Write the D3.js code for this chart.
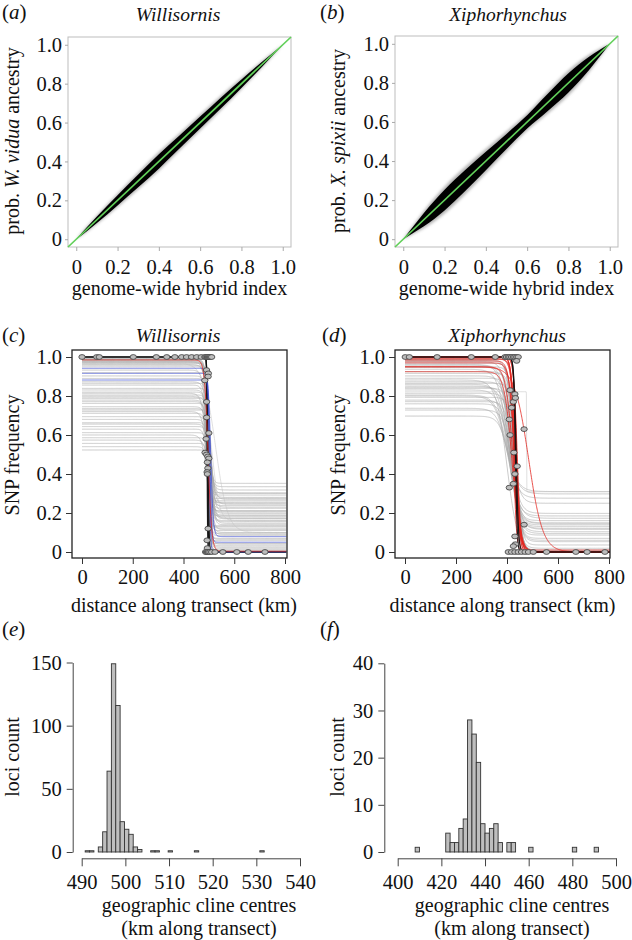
<!DOCTYPE html>
<html><head><meta charset="utf-8">
<script src="https://cdn.jsdelivr.net/npm/d3@7/dist/d3.min.js"></script>
<style>
body{margin:0;background:#fff}
svg text{font-family:"Liberation Serif","Times New Roman",Times,serif;fill:#111}
</style>
</head><body>
<svg id="fig" width="632" height="940"></svg>
<script>
// ---------------- DATA ----------------
const panelLetters = ["a","b","c","d","e","f"];
const genusTitles = ["Willisornis","Xiphorhynchus"];
const unitTicks = [0,0.2,0.4,0.6,0.8,1.0];
const unitTickLabels = ["0","0.2","0.4","0.6","0.8","1.0"];
// width of the ancestry band (a, b) around the diagonal
const bandX     = [0, 0.05, 0.1, 0.2, 0.3, 0.4, 0.5, 0.6, 0.7, 0.8, 0.9, 0.95, 1];
const bandHalfA = [0, 0.010, 0.017, 0.026, 0.033, 0.037, 0.034, 0.031, 0.028, 0.022, 0.013, 0.007, 0];
const bandHalfB = [0, 0.017, 0.034, 0.053, 0.054, 0.047, 0.039, 0.034, 0.044, 0.049, 0.034, 0.018, 0];

const kmTicks = [0,200,400,600,800];
const kmTickLabels = ["0","200","400","600","800"];

// (c) Willisornis clines: left plateau, right plateau, centre (km), width (km)
const grayLeftC   = [0.985,0.976,0.968,0.959,0.950,0.933,0.920,0.903,0.890,0.873,0.865,0.856,0.839,0.831,0.820,0.814,0.805,0.795,0.788,0.779,0.771,0.762,0.745,0.735,0.728,0.720,0.711,0.694,0.680,0.663,0.656,0.643,0.630,0.612,0.600,0.586,0.574,0.557,0.540,0.523,0.99,0.98,0.97,0.96,0.99,0.985,0.975,0.99];
const grayRightC  = [0.007,0.19,0.044,0.30,0.122,0.25,0.019,0.335,0.084,0.173,0.065,0.224,0.135,0.28,0.032,0.198,0.11,0.352,0.058,0.147,0.238,0.012,0.161,0.292,0.096,0.205,0.04,0.263,0.18,0.07,0.318,0.13,0.025,0.212,0.155,0.304,0.10,0.275,0.186,0.255,0.17,0.23,0.14,0.27,0.09,0.21,0.245,0.115];
const grayCentreC = [496,499,494,501,497,493,500,498,495,502,499,494,497,501,496,492,498,500,495,503,497,494,499,496,501,493,498,495,500,497,502,494,496,499,493,498,501,495,497,500,503,500,505,502,498,504,501,499];
const grayWidthC  = [18,26,14,30,22,34,16,28,20,36,18,30,15,32,22,38,20,26,16,34,28,18,30,22,14,36,24,20,28,18,32,16,24,22,38,20,30,18,24,16,30,34,26,36,28,32,38,30];
const wideLeftC   = [0.97,0.80];
const wideRightC  = [0.10,0.16];
const wideCentreC = [527,515];
const wideWidthC  = [95,55];
const blueLeftC   = [0.942,0.916,0.882];
const blueRightC  = [0.079,0.050,0.000];
const blueCentreC = [507,504,502];
const blueWidthC  = [20,14,10];
const redLeftC    = [0.985];
const redRightC   = [0.004];
const redCentreC  = [497];
const redWidthC   = [28];
const blackLeftC  = [1,1,1];
const blackRightC = [0,0,0];
const blackCentreC= [493,495,497];
const blackWidthC = [4,6,8];
// (c) observed SNP frequencies
const obsKmC   = [0,58,68,202,293,334,366,393,412,432,452,470,484,488,492,495,498,502,506,511,
                  491,498,497,484,491,491,500,489,485,491,496,500,494,496,493,494,497,493,494,
                  487,491,495,498,504,511,524,555,610,655,721];
const obsFreqC = [1,1,1,1,1,1,1,1,1,1,1,1,1,1,1,1,1,1,1,1,
                  0.933,0.916,0.90,0.88,0.77,0.69,0.61,0.58,0.51,0.50,0.49,0.48,0.46,0.43,0.41,0.40,0.12,0.06,0.02,
                  0,0,0,0,0,0,0,0,0,0,0];

// (d) Xiphorhynchus clines
const grayLeftD   = [0.985,0.976,0.968,0.959,0.947,0.937,0.916,0.903,0.891,0.882,0.873,0.865,0.851,0.839,0.831,0.814,0.805,0.793,0.779,0.771,0.737,0.728,0.697,0.990,0.980,0.960,0.950,0.925,0.860,0.845,0.800,0.760];
const grayRightD  = [0,0.150,0,0.104,0.019,0.173,0,0.250,0.070,0,0.139,0.036,0.198,0,0.116,0.087,0.298,0.010,0.161,0.053,0.276,0.130,0.185,0,0.005,0.121,0,0,0.145,0.060,0.310,0.095];
const grayCentreD = [425,418,430,410,422,405,432,415,427,400,420,436,412,428,408,423,398,433,416,426,402,419,411,438,429,414,435,431,406,421,395,417];
const grayWidthD  = [45,60,40,70,55,80,42,65,50,85,58,44,72,48,78,52,88,46,62,56,82,64,74,40,50,68,44,52,76,60,90,66];
const stepLeftD   = [0.822];
const stepRightD  = [0.309];
const stepCentreD = [477];
const stepWidthD  = [1];
const redLeftD    = [1,1,1,0.99,0.98,1,0.97,0.95,0.925,1,0.99,0.95];
const redRightD   = [0,0,0,0,0.01,0,0,0,0,0,0,0];
const redCentreD  = [426,430,433,436,428,438,432,424,420,440,435,485];
const redWidthD   = [22,26,30,34,40,24,45,55,60,28,36,110];
const blackLeftD  = [1,1];
const blackRightD = [0,0];
const blackCentreD= [433,436];
const blackWidthD = [14,18];
const obsKmD   = [1,17,126,260,354,392,398,405,411,418,425,431,438,444,
                  412,431,425,433,418,409,467,412,427,440,431,425,409,467,431,433,425,438,
                  405,418,431,444,457,471,484,503,555,670,714,784];
const obsFreqD = [1,1,1,1,1,1,1,1,1,1,1,1,1,1,
                  0.83,0.81,0.77,0.79,0.74,0.68,0.63,0.60,0.51,0.44,0.40,0.35,0.33,0.14,0.08,0.04,0.03,0.98,
                  0,0,0,0,0,0,0,0,0,0,0,0];

// (e) histogram of cline centres, Willisornis, 1-km bins starting at 490.8
const histStartE = 490.8;
const histBinE = 1;
const histCountsE = [1,1,0,4,16,64,149,116,24,18,14,4,2,0,0,1,1,0,0,1,
                     0,0,0,0,0,1,0,0,0,0,0,0,0,0,0,0,0,0,0,0,1];
const histXTicksE = [490,500,510,520,530,540];
const histYTicksE = [0,50,100,150];
// (f) histogram of cline centres, Xiphorhynchus, 2-km bins starting at 408
const histStartF = 408;
const histBinF = 2;
const histCountsF = [1,0,0,0,0,0,0,4,2,2,5,7,28,25,19,6,4,5,6,2,0,2,2,0,0,0,1,0,0,0,0,0,0,0,0,0,1,0,0,0,0,1];
const histXTicksF = [400,420,440,460,480,500];
const histYTicksF = [0,10,20,30,40];

// ---------------- DRAWING ----------------
const svg = d3.select("#fig");
const TICK_FS = 20.5, TITLE_FS = 20, HEAD_FS = 19.5, LETTER_FS = 21;

const defs = svg.append("defs");
defs.append("filter").attr("id","blurOut").attr("x","-20%").attr("y","-20%").attr("width","140%").attr("height","140%")
  .append("feGaussianBlur").attr("stdDeviation",1.4);
defs.append("filter").attr("id","blurIn").attr("x","-20%").attr("y","-20%").attr("width","140%").attr("height","140%")
  .append("feGaussianBlur").attr("stdDeviation",0.6);

function richText(g, x, y, parts, size, opts={}) {
  const t = g.append("text").attr("x",x).attr("y",y).attr("font-size",size)
    .attr("text-anchor", opts.anchor || "start");
  if (opts.rotate) t.attr("transform",`rotate(-90,${x},${y})`);
  parts.forEach(p => t.append("tspan").text(p[0]).attr("font-style", p[1] ? "italic" : "normal"));
  return t;
}
function letter(x, y, l) {
  richText(svg, x, y, [["(",false],[l,true],[")",false]], LETTER_FS);
}
function styleAxis(sel, color) {
  sel.attr("font-family",null);
  sel.selectAll("text").attr("font-size",TICK_FS).attr("fill","#111");
  sel.selectAll("line").attr("stroke",color);
  sel.select(".domain").attr("stroke",color);
}

// ---- panels a, b ----
function ancestryPanel(cfg) {
  const g = svg.append("g");
  const x = d3.scaleLinear().domain([-0.04,1.04]).range([cfg.bx0, cfg.bx1]);
  const y = d3.scaleLinear().domain([-0.04,1.04]).range([cfg.by1, cfg.by0]);
  g.append("rect").attr("x",cfg.bx0).attr("y",cfg.by0).attr("width",cfg.bx1-cfg.bx0)
    .attr("height",cfg.by1-cfg.by0).attr("fill","none").attr("stroke","#bdbdbd").attr("stroke-width",1);
  const pts = bandX.map((v,i)=>({x:v,h:cfg.half[i]}));
  const area = k => d3.area().x(d=>x(d.x)).y0(d=>y(d.x-d.h*k)).y1(d=>y(d.x+d.h*k)).curve(d3.curveMonotoneX);
  g.append("path").datum(pts).attr("d",area(1.3)).attr("fill","#666").attr("opacity",0.5).attr("filter","url(#blurOut)");
  g.append("path").datum(pts).attr("d",area(1.0)).attr("fill","#000").attr("filter","url(#blurIn)");
  g.append("path").datum([-0.04,1.04]).attr("d",d3.line().x(d=>x(d)).y(d=>y(d)))
    .attr("stroke","#62d05a").attr("stroke-width",1.7).attr("fill","none");
  const ax = g.append("g").attr("transform",`translate(0,${cfg.by1})`)
    .call(d3.axisBottom(x).tickValues(unitTicks).tickFormat((d,i)=>unitTickLabels[i]).tickSize(4).tickPadding(8));
  ax.select(".domain").remove(); styleAxis(ax,"#aaa");
  const ay = g.append("g").attr("transform",`translate(${cfg.bx0},0)`)
    .call(d3.axisLeft(y).tickValues(unitTicks).tickFormat((d,i)=>unitTickLabels[i]).tickSize(3).tickPadding(3));
  ay.select(".domain").remove(); styleAxis(ay,"#aaa");
  richText(g,(cfg.bx0+cfg.bx1)/2,295,[["genome-wide hybrid index",false]],TITLE_FS,{anchor:"middle"});
  richText(g,cfg.ytx,141,cfg.ylab,TITLE_FS,{anchor:"middle",rotate:true});
  richText(g,cfg.titleX,20.5,[[cfg.title,true]],HEAD_FS,{anchor:"middle"});
}
ancestryPanel({bx0:68,bx1:291,by0:37,by1:247,half:bandHalfA,ytx:19,title:genusTitles[0],titleX:178,
  ylab:[["prob. ",false],["W. vidua",true],[" ancestry",false]]});
ancestryPanel({bx0:395,bx1:618,by0:36,by1:247,half:bandHalfB,ytx:345,title:genusTitles[1],titleX:508,
  ylab:[["prob. ",false],["X. spixii",true],[" ancestry",false]]});
letter(2,19,panelLetters[0]);
letter(320,19,panelLetters[1]);

// ---- panels c, d ----
function clinePanel(cfg) {
  const g = svg.append("g");
  const x = d3.scaleLinear().domain([0,800]).range([cfg.x0, cfg.x800]);
  const y = d3.scaleLinear().domain([0,1]).range([552,357]);
  const clipId = "clip"+cfg.id;
  defs.append("clipPath").attr("id",clipId).append("rect")
    .attr("x",cfg.bx0).attr("y",cfg.by0).attr("width",cfg.bx1-cfg.bx0).attr("height",cfg.by1-cfg.by0);
  const plot = g.append("g").attr("clip-path",`url(#${clipId})`);
  const km = d3.range(0, 806, 1);
  const line = d3.line().x(d=>x(d[0])).y(d=>y(d[1]));
  function draw(L,R,C,W,style){
    L.forEach((l,i)=>{
      const pts = km.map(v=>[v, R[i] + (l-R[i])/(1+Math.exp(4*(v-C[i])/W[i]))]);
      plot.append("path").attr("d",line(pts)).attr("fill","none")
        .attr("stroke",style.c).attr("stroke-width",style.w).attr("stroke-opacity",style.o);
    });
  }
  cfg.layers.forEach(l=>draw(l[0],l[1],l[2],l[3],l[4]));
  plot.selectAll("ellipse").data(cfg.obsKm).join("ellipse")
    .attr("cx",d=>x(d)).attr("cy",(d,i)=>y(cfg.obsFreq[i])).attr("rx",3.2).attr("ry",2.4)
    .attr("fill","#bdbdbd").attr("stroke","#3a3a3a").attr("stroke-width",0.8);
  g.append("rect").attr("x",cfg.bx0).attr("y",cfg.by0).attr("width",cfg.bx1-cfg.bx0)
    .attr("height",cfg.by1-cfg.by0).attr("fill","none").attr("stroke","#222").attr("stroke-width",1.3);
  const ax = g.append("g").attr("transform",`translate(0,${cfg.by1})`)
    .call(d3.axisBottom(x).tickValues(kmTicks).tickFormat((d,i)=>kmTickLabels[i]).tickSize(6).tickPadding(5.5));
  ax.select(".domain").remove(); styleAxis(ax,"#333");
  const ay = g.append("g").attr("transform",`translate(${cfg.bx0},0)`)
    .call(d3.axisLeft(y).tickValues(unitTicks).tickFormat((d,i)=>unitTickLabels[i]).tickSize(6).tickPadding(4));
  ay.select(".domain").remove(); styleAxis(ay,"#333");
  richText(g,cfg.xtx,612,[["distance along transect (km)",false]],TITLE_FS,{anchor:"middle"});
  richText(g,cfg.ytx,455,[["SNP frequency",false]],TITLE_FS,{anchor:"middle",rotate:true});
  richText(g,cfg.titleX,342,[[cfg.title,true]],HEAD_FS,{anchor:"middle"});
}
const GRAY = {c:"#a9a9a9",w:1,o:0.6}, GRAYF={c:"#c4c4c4",w:0.9,o:0.6};
const BLUE = {c:"#3d4fd6",w:1,o:0.75}, RED={c:"#e4261f",w:1,o:0.8}, BLACK={c:"#111",w:1.2,o:0.95};
clinePanel({id:"c",x0:82,x800:285,bx0:72,bx1:287,by0:350,by1:558,ytx:19,xtx:184,title:genusTitles[0],titleX:178,
  obsKm:obsKmC,obsFreq:obsFreqC,
  layers:[[grayLeftC,grayRightC,grayCentreC,grayWidthC,GRAY],
          [wideLeftC,wideRightC,wideCentreC,wideWidthC,GRAYF],
          [blackLeftC,blackRightC,blackCentreC,blackWidthC,BLACK],
          [blueLeftC,blueRightC,blueCentreC,blueWidthC,BLUE],
          [redLeftC,redRightC,redCentreC,redWidthC,RED]]});
clinePanel({id:"d",x0:405,x800:609,bx0:395,bx1:610,by0:350,by1:558,ytx:345,xtx:502.5,title:genusTitles[1],titleX:507,
  obsKm:obsKmD,obsFreq:obsFreqD,
  layers:[[grayLeftD,grayRightD,grayCentreD,grayWidthD,GRAY],
          [stepLeftD,stepRightD,stepCentreD,stepWidthD,GRAYF],
          [redLeftD,redRightD,redCentreD,redWidthD,RED],
          [blackLeftD,blackRightD,blackCentreD,blackWidthD,BLACK]]});
letter(2,342,panelLetters[2]);
letter(322,342,panelLetters[3]);

// ---- panels e, f ----
function histPanel(cfg) {
  const g = svg.append("g");
  const x = d3.scaleLinear().domain(cfg.xdom).range([cfg.xr0,cfg.xr1]);
  const y = d3.scaleLinear().domain(cfg.ydom).range([852,cfg.ytop]);
  g.selectAll("rect.bar").data(cfg.counts).join("rect").attr("class","bar")
    .attr("x",(d,i)=>x(cfg.start+i*cfg.bin)).attr("width",(d,i)=>x(cfg.start+(i+1)*cfg.bin)-x(cfg.start+i*cfg.bin))
    .attr("y",d=>y(d)).attr("height",d=>y(0)-y(d))
    .attr("fill","#bebebe").attr("stroke","#333").attr("stroke-width",0.9);
  const ax = g.append("g").attr("transform","translate(0,858.3)")
    .call(d3.axisBottom(x).tickValues(cfg.xticks).tickSize(8).tickSizeOuter(0).tickPadding(8));
  styleAxis(ax,"#444");
  const ay = g.append("g").attr("transform",`translate(${cfg.yax},0)`)
    .call(d3.axisLeft(y).tickValues(cfg.yticks).tickSize(6).tickSizeOuter(0).tickPadding(5));
  styleAxis(ay,"#444");
  richText(g,cfg.xtx,912,[["geographic cline centres",false]],TITLE_FS,{anchor:"middle"});
  richText(g,cfg.xtx,935,[["(km along transect)",false]],TITLE_FS,{anchor:"middle"});
  richText(g,cfg.ytx,757,[["loci count",false]],TITLE_FS,{anchor:"middle",rotate:true});
}
histPanel({xdom:[490,540],xr0:81.7,xr1:300,ydom:[0,150],ytop:662.5,yax:72.7,start:histStartE,bin:histBinE,
  counts:histCountsE,xticks:histXTicksE,yticks:histYTicksE,xtx:199,ytx:19});
histPanel({xdom:[400,500],xr0:397.7,xr1:616,ydom:[0,40],ytop:663.3,yax:384.3,start:histStartF,bin:histBinF,
  counts:histCountsF,xticks:histXTicksF,yticks:histYTicksF,xtx:512,ytx:344});
letter(2,636,panelLetters[4]);
letter(320,636,panelLetters[5]);
</script>
</body></html>
